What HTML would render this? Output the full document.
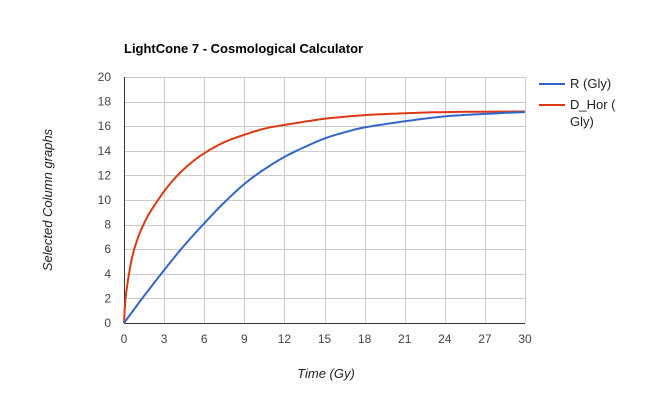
<!DOCTYPE html>
<html><head><meta charset="utf-8"><style>
body{margin:0;background:#fff}
svg{display:block;font-family:"Liberation Sans",Arial,sans-serif}
</style></head><body>
<svg id="s" width="650" height="400" viewBox="0 0 650 400">
<rect width="650" height="400" fill="#fff"/>
<text x="124" y="53" font-size="13" font-weight="bold" fill="#000">LightCone 7 - Cosmological Calculator</text>
<g id="grid" stroke="#ccc" stroke-width="1"></g>
<g id="lab" font-size="12" fill="#444"></g>
<line x1="124.5" y1="77" x2="124.5" y2="323" stroke="#333"/>
<line x1="124" y1="323.5" x2="525" y2="323.5" stroke="#333"/>
<polyline id="red" fill="none" stroke="#dc3912" stroke-width="2" stroke-linejoin="round"/>
<polyline id="blue" fill="none" stroke="#3366cc" stroke-width="2" stroke-linejoin="round"/>
<text x="326" y="378" font-size="13" font-style="italic" fill="#222" text-anchor="middle">Time (Gy)</text>
<text transform="translate(52,200) rotate(-90)" font-size="13" font-style="italic" fill="#222" text-anchor="middle">Selected Column graphs</text>
<line x1="539" y1="84" x2="565" y2="84" stroke="#3366cc" stroke-width="2"/>
<text x="570" y="88" font-size="13" fill="#222">R (Gly)</text>
<line x1="539" y1="105" x2="565" y2="105" stroke="#dc3912" stroke-width="2"/>
<text x="570" y="109" font-size="13" fill="#222">D_Hor (</text>
<text x="570" y="126" font-size="13" fill="#222">Gly)</text>
</svg>
<script>
var X=t=>124+t*401/30, Y=v=>323-v*12.3;
var g=document.getElementById('grid'),l=document.getElementById('lab'),ns='http://www.w3.org/2000/svg';
for(var i=0;i<=10;i++){var x=Math.round(X(i*3))+.5;var e=document.createElementNS(ns,'line');e.setAttribute('x1',x);e.setAttribute('x2',x);e.setAttribute('y1',77);e.setAttribute('y2',323);g.appendChild(e);
var t=document.createElementNS(ns,'text');t.setAttribute('x',X(i*3));t.setAttribute('y',343);t.setAttribute('text-anchor','middle');t.textContent=i*3;l.appendChild(t);}
for(var i=0;i<=10;i++){var y=Math.round(Y(i*2))+.5;var e=document.createElementNS(ns,'line');e.setAttribute('x1',124);e.setAttribute('x2',525);e.setAttribute('y1',y);e.setAttribute('y2',y);g.appendChild(e);
var t=document.createElementNS(ns,'text');t.setAttribute('x',111);t.setAttribute('y',Y(i*2)+4);t.setAttribute('text-anchor','end');t.textContent=i*2;l.appendChild(t);}
var B=[[0,0],[1.5,2.2],[3,4.3],[4.5,6.3],[6,8.1],[7.5,9.8],[9,11.3],[10.5,12.5],[12,13.5],[13.5,14.3],[15,15.0],[16.5,15.5],[18,15.9],[21,16.4],[24,16.8],[27,17.0],[30,17.15]];
var R=[[0,0],[0.1,1.8],[0.3,3.5],[0.6,5.3],[1,6.8],[1.5,8.1],[2,9.1],[3,10.7],[4,12],[5,13],[6,13.8],[7.5,14.7],[9,15.3],[10.5,15.8],[12,16.1],[15,16.6],[18,16.9],[21,17.05],[24,17.15],[30,17.2]];
function sm(P){var o=[];for(var i=0;i<P.length-1;i++){var p0=P[Math.max(0,i-1)],p1=P[i],p2=P[i+1],p3=P[Math.min(P.length-1,i+2)];
for(var k=0;k<10;k++){var s=k/10,s2=s*s,s3=s2*s;var f=(a,b,c,d)=>0.5*(2*b+(-a+c)*s+(2*a-5*b+4*c-d)*s2+(-a+3*b-3*c+d)*s3);
o.push(X(f(p0[0],p1[0],p2[0],p3[0])).toFixed(1)+','+Y(f(p0[1],p1[1],p2[1],p3[1])).toFixed(1));}}
var q=P[P.length-1];o.push(X(q[0])+','+Y(q[1]));return o.join(' ');}
document.getElementById('blue').setAttribute('points',sm(B));
document.getElementById('red').setAttribute('points',sm(R));
</script>
</body></html>
